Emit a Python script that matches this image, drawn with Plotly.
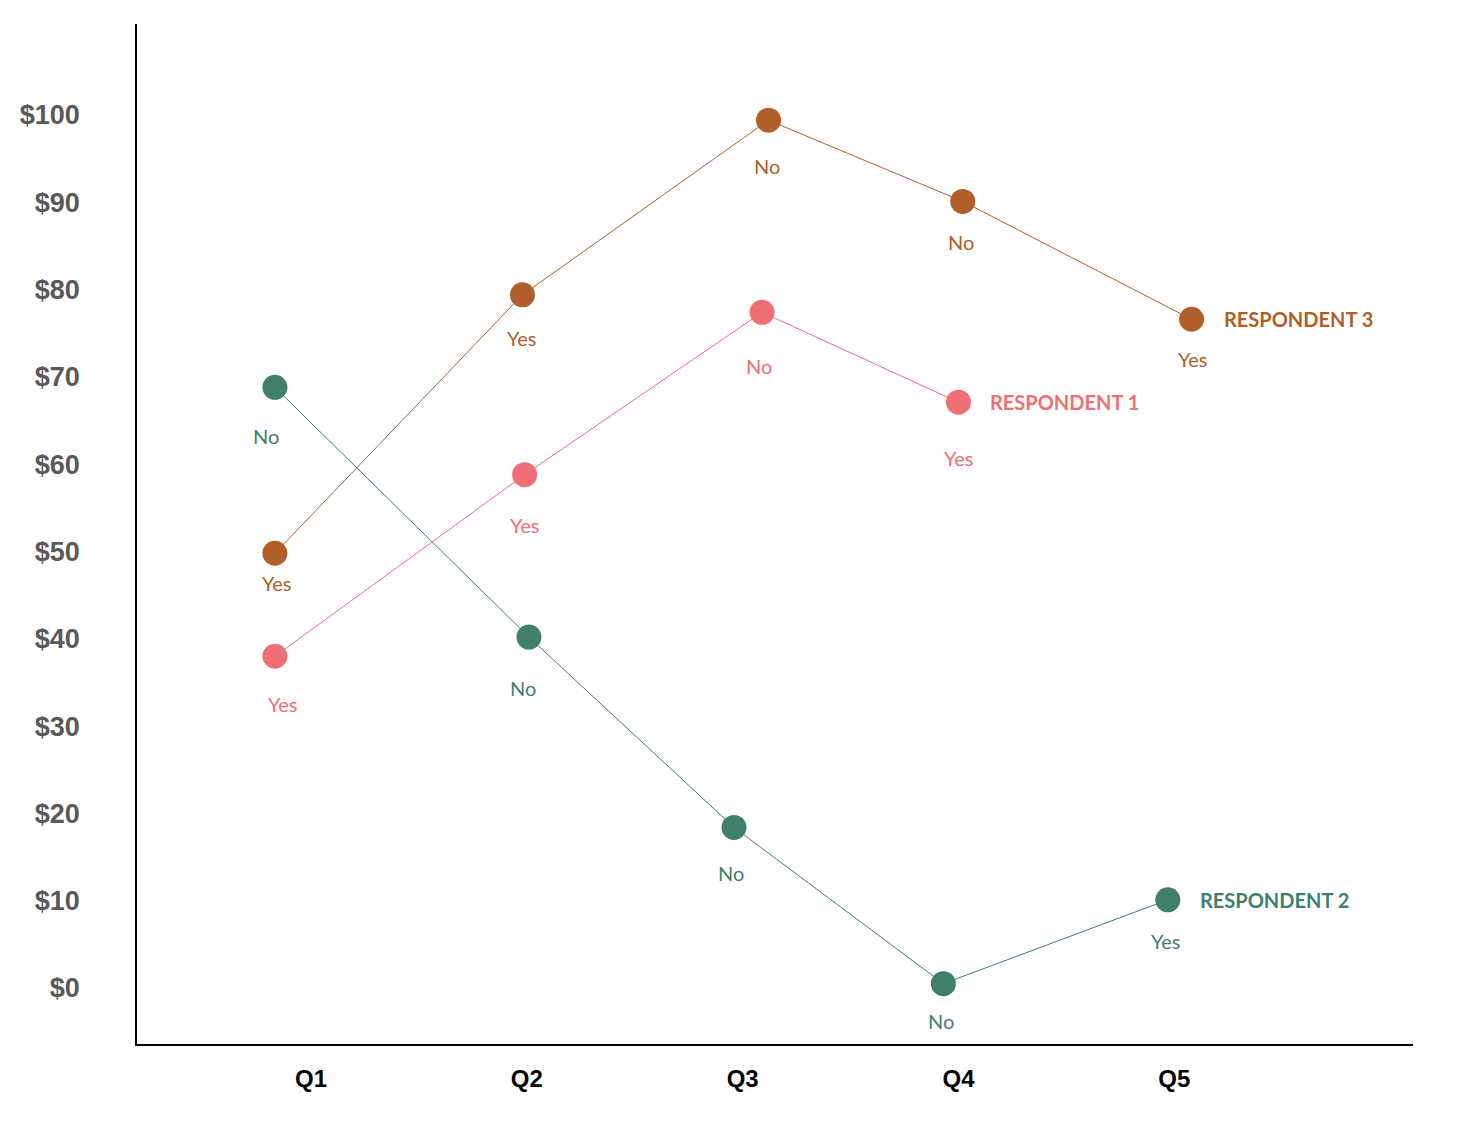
import plotly.graph_objects as go

# ---- data ----
questions = ["Q1", "Q2", "Q3", "Q4", "Q5"]
question_pos = [1, 2, 3, 4, 5]

r1_x = [0.833, 1.99, 3.09, 4.0]
r1_y = [38, 58.8, 77.4, 67.1]
r1_ans = ["Yes", "Yes", "No", "Yes"]

r2_x = [0.833, 2.01, 2.96, 3.93, 4.97]
r2_y = [68.8, 40.2, 18.4, 0.5, 10.1]
r2_ans = ["No", "No", "No", "No", "Yes"]

r3_x = [0.833, 1.98, 3.12, 4.02, 5.08]
r3_y = [49.8, 79.4, 99.4, 90.1, 76.6]
r3_ans = ["Yes", "Yes", "No", "No", "Yes"]

y_ticks = [0, 10, 20, 30, 40, 50, 60, 70, 80, 90, 100]
y_tick_text = ["$" + str(v) for v in y_ticks]

series = [
    ("RESPONDENT 1", r1_x, r1_y, r1_ans, "#EF6F74"),
    ("RESPONDENT 2", r2_x, r2_y, r2_ans, "#3F7F6B"),
    ("RESPONDENT 3", r3_x, r3_y, r3_ans, "#B05F2A"),
]

# label offsets (px) per point, layout tweak
label_dy = {
    "RESPONDENT 1": [48, 50, 54, 56],
    "RESPONDENT 2": [49, 51, 46, 37, 41],
    "RESPONDENT 3": [30, 43, 46, 41, 40],
}
label_dx = {
    "RESPONDENT 1": [8, 0, -3, 1],
    "RESPONDENT 2": [-9, -6, -3, -2, -2],
    "RESPONDENT 3": [2, 0, -2, -2, 1],
}

fig = go.Figure()
annotations = []
for name, xs, ys, ans, color in series:
    fig.add_trace(go.Scatter(
        x=xs, y=ys, mode="lines+markers", name=name,
        line=dict(color=color, width=1),
        marker=dict(color=color, size=25, line=dict(width=0)),
        showlegend=False, hoverinfo="skip",
    ))
    for i, (x, y, a) in enumerate(zip(xs, ys, ans)):
        annotations.append(dict(
            x=x, y=y, xref="x", yref="y", text=a, showarrow=False,
            xshift=label_dx[name][i], yshift=-label_dy[name][i],
            font=dict(family="Lato", size=20, color=color),
        ))
    annotations.append(dict(
        x=xs[-1], y=ys[-1], xref="x", yref="y",
        text="<b>" + name + "</b>", showarrow=False,
        xanchor="left", xshift=30,
        font=dict(family="Lato", size=20, color=color),
    ))

fig.update_layout(
    width=1460, height=1124,
    margin=dict(l=127, r=55, t=16, b=88),
    paper_bgcolor="white", plot_bgcolor="white",
    annotations=annotations,
    xaxis=dict(
        range=[0.194, 6.106], tickmode="array",
        tickvals=question_pos, ticktext=["<b>" + q + "</b>" for q in questions],
        showgrid=False, zeroline=False,
        showline=True, linecolor="black", linewidth=1.5,
        ticks="", ticklabelstandoff=12,
        tickfont=dict(family="Liberation Sans", size=24, color="black"),
    ),
    yaxis=dict(
        range=[-6.41, 110.42], tickmode="array",
        tickvals=y_ticks, ticktext=["<b>" + t + "</b>" for t in y_tick_text],
        showgrid=False, zeroline=False,
        showline=True, linecolor="black", linewidth=1.5,
        ticks="", ticklabelstandoff=50,
        tickfont=dict(family="Liberation Sans", size=27, color="#595959"),
    ),
)

fig.write_html("out.html")
